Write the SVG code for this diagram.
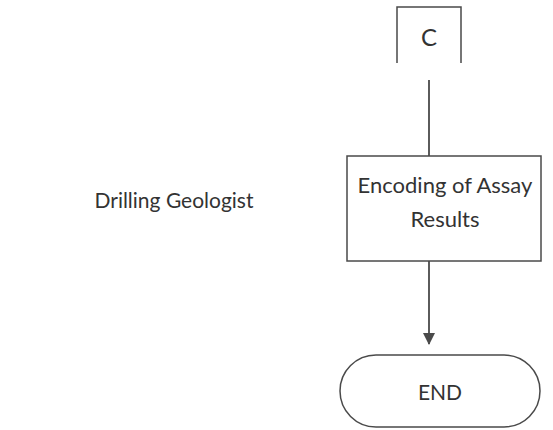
<svg xmlns="http://www.w3.org/2000/svg" width="553" height="430" viewBox="0 0 553 430">
<style>
  .shape { fill: #ffffff; stroke: #4a4a4a; stroke-width: 1.5; }
  .edge { fill: none; stroke: #4a4a4a; stroke-width: 1.8; }
  .lbl { font-family: Lato, "Open Sans", "Liberation Sans", sans-serif; font-size: 21px; fill: #333333; text-anchor: middle; }
</style>
<defs>
  <marker id="arrow" viewBox="0 0 12 16" refX="11" refY="8" markerWidth="12" markerHeight="16" markerUnits="userSpaceOnUse" orient="auto">
    <path d="M0,0 L12,6 L0,12 Z" transform="translate(0,2)" fill="#4a4a4a"/>
  </marker>
</defs>
<rect width="553" height="430" fill="#ffffff"/>
<g id="lane-label">
  <text class="lbl" x="174" y="208">Drilling Geologist</text>
</g>
<g id="node-c">
  <path class="shape" d="M397,63 L397,7 L461,7 L461,63" fill="none"/>
  <text class="lbl" x="429" y="46" style="font-size:24px">C</text>
</g>
<g id="node-encoding">
  <rect class="shape" x="347" y="156" width="194" height="105"/>
  <text class="lbl" x="445" y="193" style="font-size:22px">Encoding of Assay</text>
  <text class="lbl" x="445" y="227" style="font-size:22px">Results</text>
</g>
<g id="node-end">
  <rect class="shape" x="340" y="355" width="200" height="72" rx="36" ry="36"/>
  <text class="lbl" x="440" y="400">END</text>
</g>
<g id="connectors">
  <line class="edge" x1="429" y1="80" x2="429" y2="156"/>
  <line class="edge" x1="429" y1="261" x2="429" y2="344" marker-end="url(#arrow)"/>
</g>
</svg>
